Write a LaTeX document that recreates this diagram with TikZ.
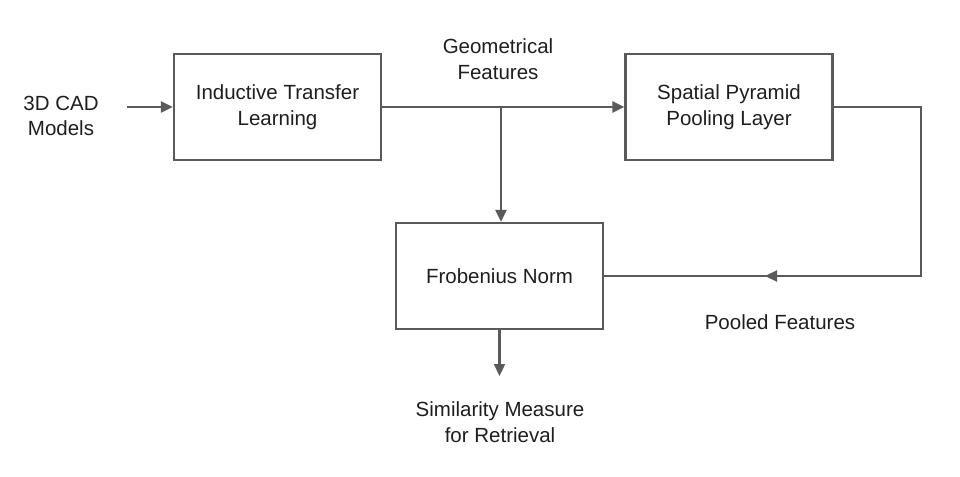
\documentclass[tikz,border=0pt]{standalone}
\usepackage{fontspec}
\setmainfont{Liberation Sans}
\usetikzlibrary{arrows.meta}
\definecolor{linec}{HTML}{5A5A5A}
\definecolor{txtc}{HTML}{1E1E1E}
\begin{document}
\begin{tikzpicture}[x=1pt,y=-1pt,
  box/.style={draw=linec,line width=2.3pt,minimum width=207pt,minimum height=106pt,inner sep=0pt,text=txtc,font=\fontsize{20.5}{25.5}\selectfont,align=center},
  lbl/.style={text=txtc,font=\fontsize{20.5}{25.5}\selectfont,align=center,inner sep=0pt},
  conn/.style={draw=linec,line width=2.3pt},
  arr/.style={conn,-{Triangle[length=12pt,width=11pt]}}]
\useasboundingbox (0,0) rectangle (960,476);
\node[box] (ind) at (277.5,107) {Inductive Transfer\\Learning};
\node[box] (spp) at (729,107) {Spatial Pyramid\\Pooling Layer};
\node[box] (frob) at (499.5,276) {Frobenius Norm};
\node[lbl] (cad) at (61,116) {3D CAD\\Models};
\node[lbl] (geo) at (498,59) {Geometrical\\Features};
\node[lbl] (pool) at (780,322) {Pooled Features};
\node[lbl] (sim) at (500,422) {Similarity Measure\\for Retrieval};
\coordinate (cadout) at (127,107);
\coordinate (branch) at (501,107);
\coordinate (pc) at (921,276);
\coordinate (pm) at (833,276);
\coordinate (ptip) at (765,276);
\coordinate (simin) at (499.5,376);
\draw[arr] (cadout) -- (ind.west);
\draw[arr] (ind.east) -- (spp.west);
\draw[arr] (branch) -- (branch |- frob.north);
\draw[conn] (spp.east) -| (pc) -- (frob.east);
\draw[arr] (pm) -- (ptip);
\draw[arr] (frob.south) -- (simin);
\end{tikzpicture}
\end{document}
